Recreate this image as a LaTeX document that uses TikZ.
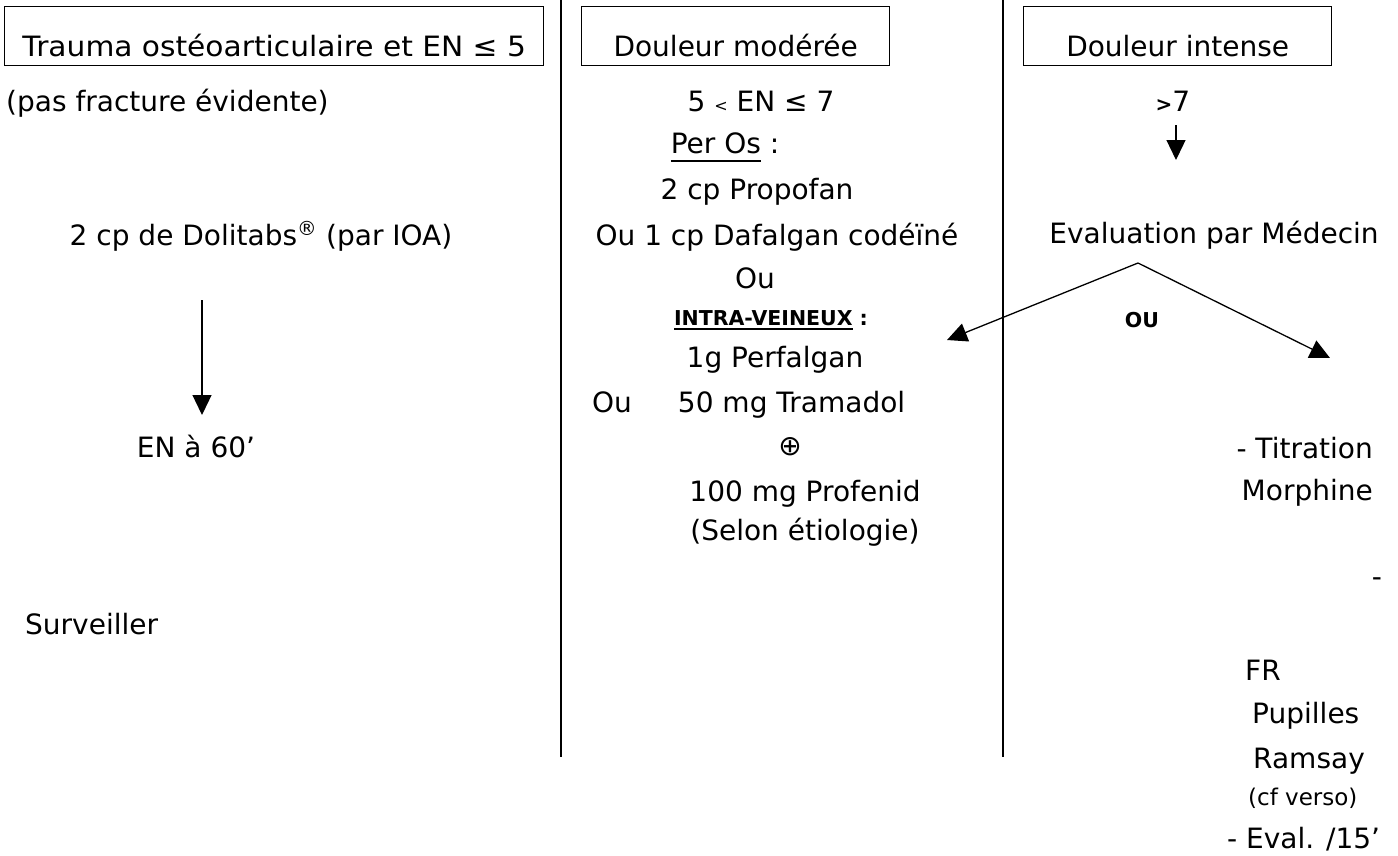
\documentclass[tikz,border=0pt]{standalone}
\usepackage{fontspec}
\setmainfont{DejaVu Sans}
\newfontfamily\widefont{DejaVu Sans}[FakeStretch=1.06]
\newcommand{\myul}[3]{\setbox0\hbox{#1}\rlap{\rule[-#3]{\wd0}{#2}}\box0\relax}
\usetikzlibrary{arrows.meta}
\tikzset{
  txt/.style={inner sep=0pt, font=\fontsize{28}{33}\selectfont},
  smallbold/.style={inner sep=0pt, font=\fontsize{20.5}{24}\selectfont\bfseries},
  smalltxt/.style={inner sep=0pt, font=\fontsize{23}{27}\selectfont},
  hdr/.style={draw, line width=1.4pt, inner sep=0pt, text height=50pt, text depth=9pt,
              anchor=north west, font=\fontsize{28}{33}\selectfont},
  sepline/.style={line width=2pt},
  arr/.style={line width=1.3pt, -{Triangle[length=20pt,width=19pt]}}
}
\begin{document}
\begin{tikzpicture}[x=1pt,y=-1pt]
\useasboundingbox (0,0) rectangle (1398,855);

% header boxes
\node[hdr, minimum width=539pt] (h1) at (4,6) {\widefont Trauma ostéoarticulaire et EN ≤ 5};
\node[hdr, minimum width=308pt] (h2) at (581,6) {Douleur modérée};
\node[hdr, minimum width=308pt] (h3) at (1023,6) {Douleur intense};

% separators
\coordinate (s1t) at (561,0);   \coordinate (s1b) at (561,757);
\coordinate (s2t) at (1003,0);  \coordinate (s2b) at (1003,757);
\draw[sepline] (s1t) -- (s1b);
\draw[sepline] (s2t) -- (s2b);

% column 1
\node[txt, anchor=base west] (c1a) at (6,111) {(pas fracture évidente)};
\node[txt, anchor=base] (c1b) at (261,245) {2 cp de Dolitabs\textsuperscript{®} (par IOA)};
\coordinate (a1s) at (202,300);
\coordinate (a1e) at (202,415);
\draw[arr] (a1s) -- (a1e);
\node[txt, anchor=base] (c1c) at (196,457) {EN à 60’};
\node[txt, anchor=base west] (c1d) at (25,634) {Surveiller};

% column 2
\node[txt, anchor=base] (c2a) at (761,111) {5 {\fontsize{16}{16}\selectfont <} EN ≤ 7};
\node[txt, anchor=base] (c2b) at (725,153) {\myul{Per Os}{2.5pt}{9pt} :};
\node[txt, anchor=base] (c2c) at (757,199) {2 cp Propofan};
\node[txt, anchor=base] (c2d) at (777,245) {Ou 1 cp Dafalgan codéïné};
\node[txt, anchor=base] (c2e) at (755,288) {Ou};
\node[smallbold, anchor=base] (c2f) at (771,325) {\myul{INTRA-VEINEUX}{2pt}{5pt} :};
\node[txt, anchor=base] (c2g) at (775,367) {1g Perfalgan};
\node[txt, anchor=base west] (c2h) at (592,412) {Ou\hspace{46pt}50 mg Tramadol};
\node[txt, anchor=center] (c2i) at (790,447) {⊕};
\node[txt, anchor=base] (c2j) at (805,501) {100 mg Profenid};
\node[txt, anchor=base] (c2k) at (805,540) {(Selon étiologie)};

% column 3
\node[txt, anchor=base] (c3a) at (1173,111) {{\fontsize{20}{20}\selectfont\bfseries >}7};
\coordinate (a3s) at (1176,125);
\coordinate (a3e) at (1176,160);
\draw[arr] (a3s) -- (a3e);
\node[txt, anchor=base] (c3b) at (1214,243) {Evaluation par Médecin};
\coordinate (peak) at (1138,263);
\coordinate (lt) at (947,340);
\coordinate (rt) at (1330,358);
\draw[arr] (peak) -- (lt);
\draw[arr] (peak) -- (rt);
\node[smallbold, anchor=center] (ou) at (1142,320) {OU};
\node[txt, anchor=base east] (c3c) at (1373,458) {- Titration};
\node[txt, anchor=base east] (c3d) at (1373,500) {Morphine};
\node[txt, anchor=center] (c3e) at (1377,582) {-};
\node[txt, anchor=base west] (c3f) at (1245,680) {FR};
\node[txt, anchor=base west] (c3g) at (1252,723) {Pupilles};
\node[txt, anchor=base west] (c3h) at (1253,768) {Ramsay};
\node[smalltxt, anchor=base west] (c3i) at (1248,805) {(cf verso)};
\node[txt, anchor=base west] (c3j) at (1227,848) {- Eval. /15’};
\end{tikzpicture}
\end{document}
